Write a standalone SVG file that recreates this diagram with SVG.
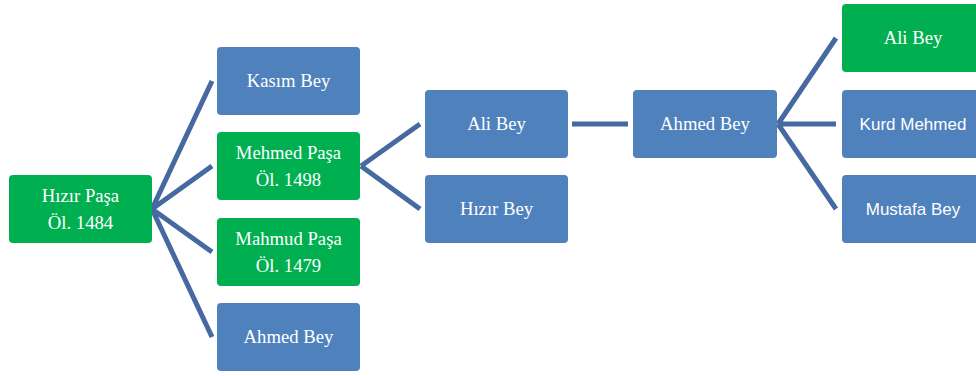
<svg xmlns="http://www.w3.org/2000/svg" width="976" height="376" viewBox="0 0 976 376">
<style>
.g{fill:#00B050}
.b{fill:#4F81BD}
.t{fill:#fff;font-family:"Liberation Serif","Times New Roman",serif;font-size:18.7px;text-anchor:middle}
.s{fill:#fff;font-family:"Liberation Sans",Arial,sans-serif;font-size:17px;text-anchor:middle}
.c{stroke:#4569A0;stroke-width:5;fill:none}
</style>
<rect width="976" height="376" fill="#fff"/>
<g id="connectors" class="c">
<path d="M152,209 L212,81 M152,209 L212,166 M152,209 L212,252 M152,209 L212,337"/>
<path d="M361,166 L420,124 M361,166 L420,209"/>
<path d="M572,124 L628,124"/>
<path d="M778,124 L836,38 M778,124 L836,124 M778,124 L836,209"/>
</g>
<g id="hizir-pasa"><rect class="g" x="9" y="175" width="143" height="68" rx="4"/><text class="t" x="80.5" y="202">Hızır Paşa</text><text class="t" x="80.5" y="229">Öl. 1484</text></g>
<g id="kasim-bey"><rect class="b" x="217" y="47" width="143" height="68" rx="4"/><text class="t" x="288.5" y="87">Kasım Bey</text></g>
<g id="mehmed-pasa"><rect class="g" x="217" y="132" width="143" height="68" rx="4"/><text class="t" x="288.5" y="159">Mehmed Paşa</text><text class="t" x="288.5" y="186">Öl. 1498</text></g>
<g id="mahmud-pasa"><rect class="g" x="217" y="218" width="143" height="68" rx="4"/><text class="t" x="288.5" y="245">Mahmud Paşa</text><text class="t" x="288.5" y="272">Öl. 1479</text></g>
<g id="ahmed-bey-1"><rect class="b" x="217" y="303" width="143" height="68" rx="4"/><text class="t" x="288.5" y="343">Ahmed Bey</text></g>
<g id="ali-bey-1"><rect class="b" x="425" y="90" width="143" height="68" rx="4"/><text class="t" x="496.5" y="130">Ali Bey</text></g>
<g id="hizir-bey"><rect class="b" x="425" y="175" width="143" height="68" rx="4"/><text class="t" x="496.5" y="215">Hızır Bey</text></g>
<g id="ahmed-bey-2"><rect class="b" x="633" y="90" width="144" height="68" rx="4"/><text class="t" x="705" y="130">Ahmed Bey</text></g>
<g id="ali-bey-2"><rect class="g" x="842" y="4" width="143" height="68" rx="4"/><text class="t" x="913" y="44">Ali Bey</text></g>
<g id="kurd-mehmed"><rect class="b" x="842" y="90" width="143" height="68" rx="4"/><text class="s" x="913" y="130">Kurd Mehmed</text></g>
<g id="mustafa-bey"><rect class="b" x="842" y="175" width="143" height="68" rx="4"/><text class="s" x="913" y="215">Mustafa Bey</text></g>
</svg>
